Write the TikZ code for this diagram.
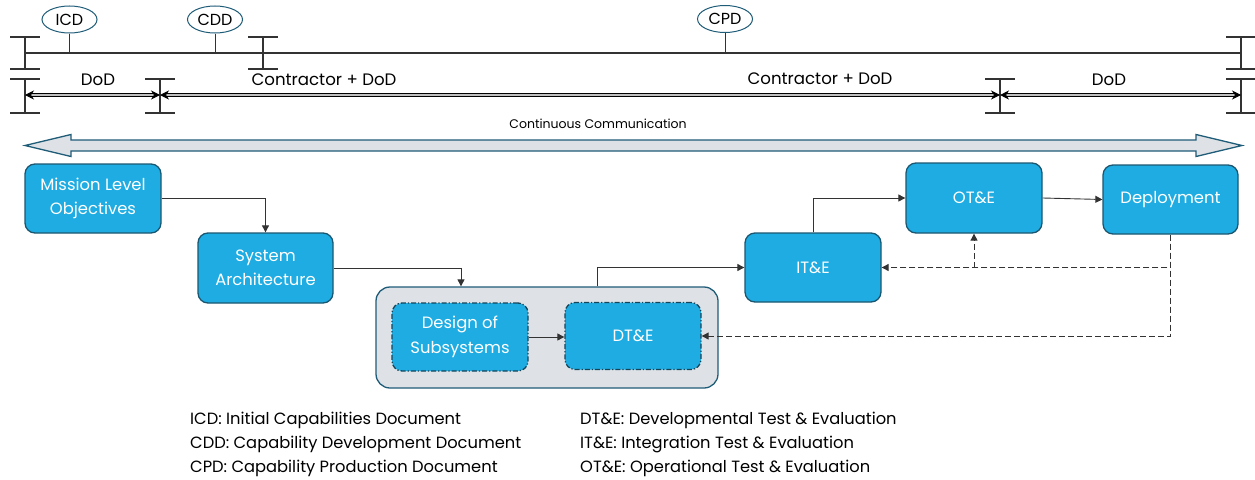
\documentclass[tikz,border=0pt]{standalone}
\usepackage{fontspec}
\setmainfont{Poppins}
\usetikzlibrary{arrows.meta,shapes.geometric}

\definecolor{boxblue}{HTML}{1EACE2}
\definecolor{boxedge}{HTML}{1B5670}
\definecolor{grpfill}{HTML}{DEE2E6}
\definecolor{tealedge}{HTML}{1F5C78}
\definecolor{tlgray}{HTML}{333333}

\tikzset{
  stagebox/.style={draw=boxedge, line width=1.3pt, fill=boxblue, rounded corners=10pt,
    text=white, align=center, font=\fontsize{16.4}{24.5}\selectfont, inner sep=0pt},
  innerbox/.style={stagebox, draw=boxedge!80!black, dash pattern=on 5pt off 2pt on 1.2pt off 2pt},
  conn/.style={draw=black!80, line width=0.9pt, -{Triangle[length=7pt,width=7pt]}},
  dconn/.style={conn, dash pattern=on 6pt off 3pt},
  milestone/.style={ellipse, draw=tealedge, line width=1pt, fill=white,
    minimum width=55pt, minimum height=27pt, inner sep=0pt, font=\fontsize{16}{19}\selectfont},
  tline/.style={draw=tlgray, line width=1.3pt},
  phasebar/.style={draw=tlgray, line width=1.3pt},
  span/.style={draw=black, line width=0.9pt, double=black!25, double distance=1.3pt,
    {Stealth[length=9pt,width=9pt]}-{Stealth[length=9pt,width=9pt]}},
  toplabel/.style={font=\fontsize{16.6}{19}\selectfont, inner sep=0pt},
  legend/.style={anchor=west, font=\fontsize{16.3}{19}\selectfont, inner sep=0pt}
}

\begin{document}
\begin{tikzpicture}[x=1pt, y=-1pt]
\useasboundingbox (0,0) rectangle (1255,479);

% ---- timeline with milestones ----
\coordinate (tlL) at (25,53);
\coordinate (tlR) at (1241,53);
\draw[tline] (tlL) -- (tlR);

% phase bars, upper row
\foreach \x in {25,263,1241}{
  \draw[phasebar] (\x,37) -- (\x,69);
  \draw[phasebar] (\x-15,37) -- (\x+15,37);
  \draw[phasebar] (\x-15,69) -- (\x+15,69);
}
% phase bars, lower row
\foreach \x in {25,160,1000,1241}{
  \draw[phasebar] (\x,79) -- (\x,113);
  \draw[phasebar] (\x-15,79) -- (\x+15,79);
  \draw[phasebar] (\x-15,113) -- (\x+15,113);
}

\node[milestone] (icd) at (69.5,19.5) {ICD};
\node[milestone] (cdd) at (215,19.5) {CDD};
\node[milestone] (cpd) at (725,19) {CPD};
\foreach \m in {icd,cdd,cpd}
  \draw[tline, line width=1pt] (\m.south) -- (\m.south |- tlL);

% responsibility spans
\coordinate (s0) at (25,95);
\coordinate (s1) at (160,95);
\coordinate (s2) at (1000,95);
\coordinate (s3) at (1241,95);
\draw[span] (s0) -- (s1);
\draw[span] (s1) -- (s2);
\draw[span] (s2) -- (s3);
\node[toplabel] (lb1) at (98,79.5) {DoD};
\node[toplabel] (lb2) at (324,79.5) {Contractor + DoD};
\node[toplabel] (lb3) at (820,79) {Contractor + DoD};
\node[toplabel] (lb4) at (1109,79.5) {DoD};

% continuous communication block arrow
\filldraw[fill=grpfill, draw=tealedge, line width=1.3pt, line join=miter]
  (25,145.5) -- (71,134.5) -- (71,140) -- (1196,140) -- (1196,134.5) -- (1242,145.5)
  -- (1196,156.5) -- (1196,151) -- (71,151) -- (71,156.5) -- cycle;
\node[font=\fontsize{12.5}{15}\selectfont, inner sep=0pt] (cc) at (598,124) {Continuous Communication};

% ---- process stages ----
\node[draw=tealedge, line width=1.3pt, fill=grpfill, rounded corners=14pt,
      minimum width=342pt, minimum height=101pt] (grp) at (547,337.5) {};
\node[stagebox, minimum width=136pt, minimum height=69pt] (mlo) at (93,198.5) {Mission Level\\Objectives};
\node[stagebox, minimum width=135pt, minimum height=70pt] (sa) at (265.5,268) {System\\Architecture};
\node[innerbox, minimum width=136pt, minimum height=68pt] (dos) at (460,337) {Design of\\Subsystems};
\node[innerbox, minimum width=136pt, minimum height=67pt] (dte) at (633,336) {DT\&E};
\node[stagebox, minimum width=136pt, minimum height=69pt] (ite) at (813,267.5) {IT\&E};
\node[stagebox, minimum width=136pt, minimum height=70pt] (ote) at (974,198) {OT\&E};
\node[stagebox, minimum width=135pt, minimum height=69pt] (dep) at (1170.5,199.5) {Deployment};

\draw[conn] (mlo.east) -| (sa.north);
\draw[conn] (sa.east) -| ([xshift=-86pt]grp.north);
\draw[conn] (dos.east) -- (dos.east -| dte.west);
\draw[conn] ([xshift=50pt]grp.north) |- (ite.west);
\draw[conn] (ite.north) |- (ote.west);
\draw[conn] (ote.east) -- (dep.west);
\draw[dconn] (dep.south) |- (ite.east);
\draw[dconn] (ite.east -| ote.south) -- (ote.south);
\draw[dconn] (dep.south) |- (dte.east);

% ---- legend ----
\node[legend] (k1) at (190,420) {ICD: Initial Capabilities Document};
\node[legend] (k2) at (190,444) {CDD: Capability Development Document};
\node[legend] (k3) at (190,468) {CPD: Capability Production Document};
\node[legend] (k4) at (580,420) {DT\&E: Developmental Test \& Evaluation};
\node[legend] (k5) at (580,444) {IT\&E: Integration Test \& Evaluation};
\node[legend] (k6) at (580,468) {OT\&E: Operational Test \& Evaluation};
\end{tikzpicture}
\end{document}
